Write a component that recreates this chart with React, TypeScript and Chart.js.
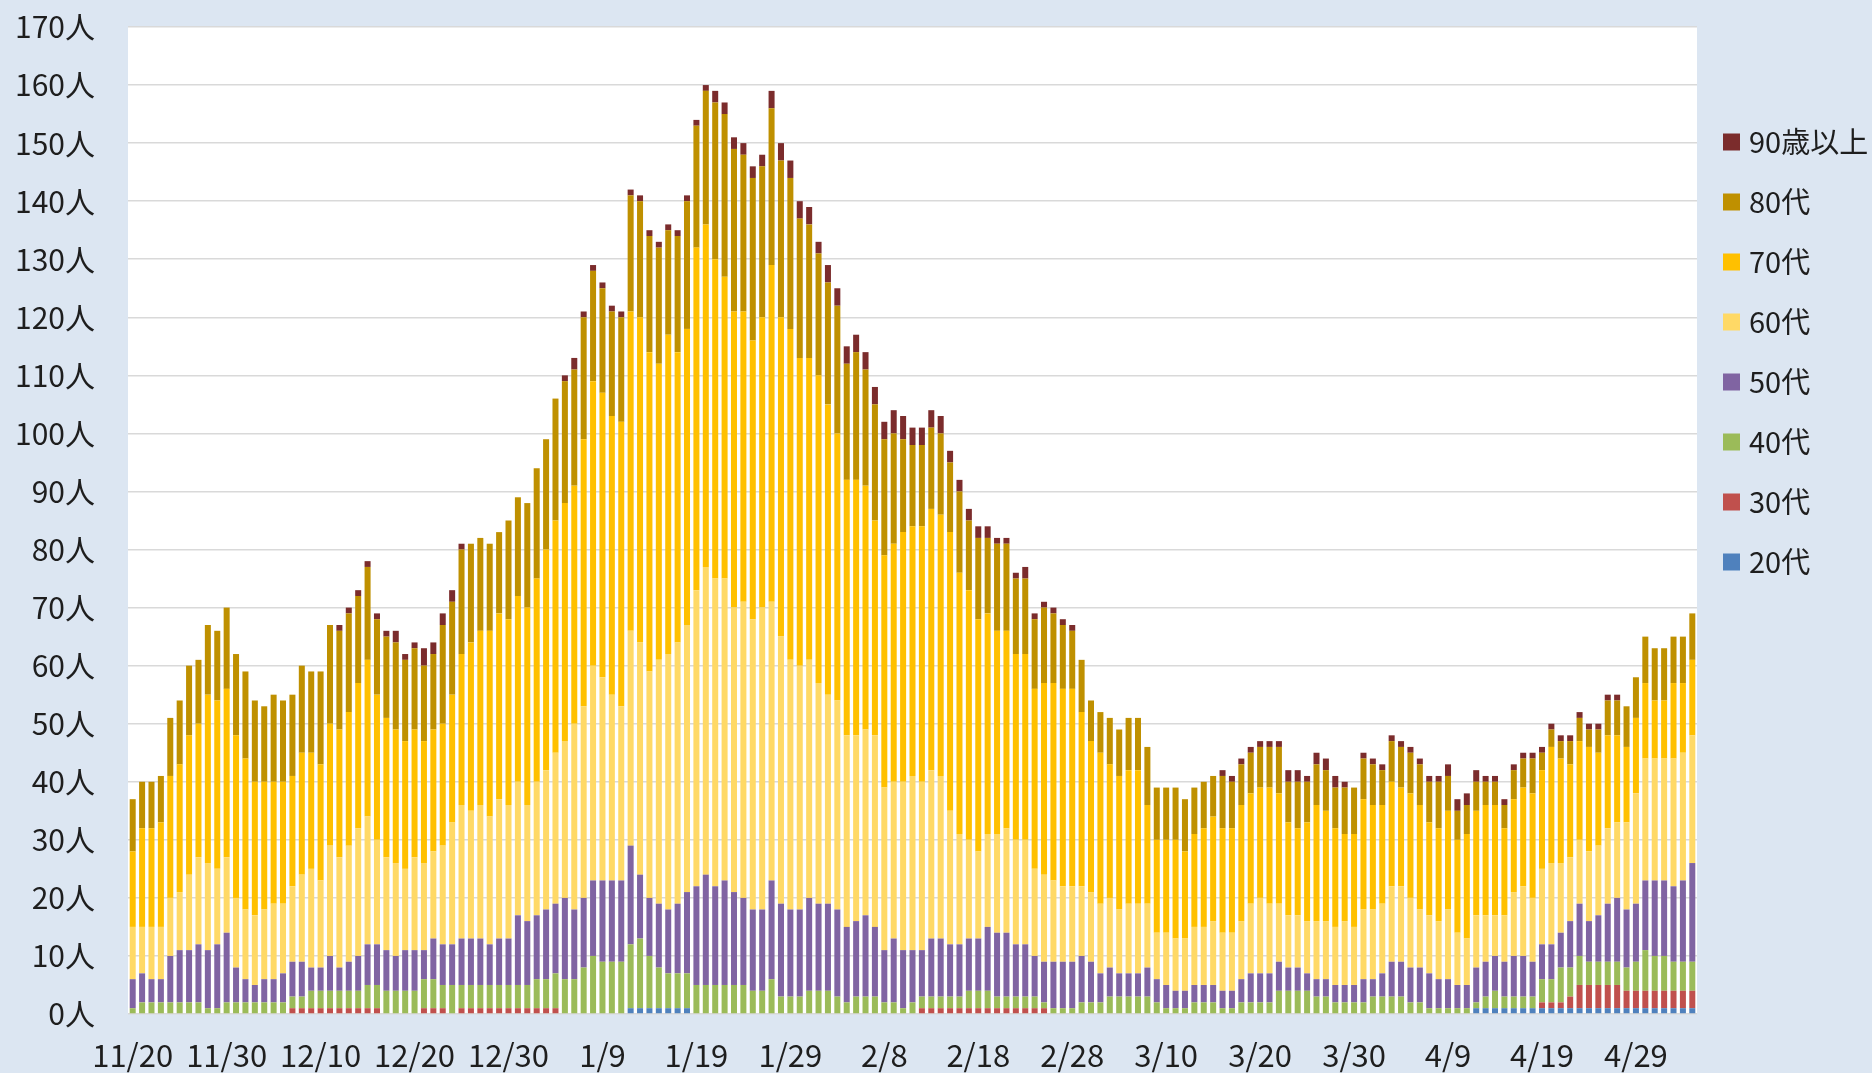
import { useEffect, useRef } from 'react';
import { Chart, registerables } from 'chart.js';

Chart.register(...registerables);

// Categories: daily dates from 2020-11-20 to 2021-05-05 (167 days)
const START_DATE = [2020, 10, 20];
const DAY_COUNT = 167;
const DAYS: string[] = (() => {
  const out: string[] = [];
  const dt = new Date(START_DATE[0], START_DATE[1], START_DATE[2]);
  for (let i = 0; i < DAY_COUNT; i++) {
    out.push(`${dt.getMonth() + 1}/${dt.getDate()}`);
    dt.setDate(dt.getDate() + 1);
  }
  return out;
})();

const TICK_LABELS = ['11/20', '11/30', '12/10', '12/20', '12/30', '1/9', '1/19', '1/29', '2/8', '2/18', '2/28', '3/10', '3/20', '3/30', '4/9', '4/19', '4/29'];

const AGE20 = [
  0,0,0,0,0,0,0,0,0,0, 0,0,0,0,0,0,0,0,0,0, 0,0,0,0,0,0,0,0,0,0, 0,0,0,0,0,0,0,0,0,0,
  0,0,0,0,0,0,0,0,0,0, 0,0,0,1,1,1,1,1,1,1, 0,0,0,0,0,0,0,0,0,0, 0,0,0,0,0,0,0,0,0,0,
  0,0,0,0,0,0,0,0,0,0, 0,0,0,0,0,0,0,0,0,0, 0,0,0,0,0,0,0,0,0,0, 0,0,0,0,0,0,0,0,0,0,
  0,0,0,0,0,0,0,0,0,0, 0,0,0,0,0,0,0,0,0,0, 0,0,0,1,1,1,1,1,1,1, 1,1,1,1,1,1,1,1,1,1,
  1,1,1,1,1,1,1,
];
const AGE30 = [
  0,0,0,0,0,0,0,0,0,0, 0,0,0,0,0,0,0,1,1,1, 1,1,1,1,1,1,1,0,0,0, 0,1,1,1,0,1,1,1,1,1,
  1,1,1,1,1,1,0,0,0,0, 0,0,0,0,0,0,0,0,0,0, 0,0,0,0,0,0,0,0,0,0, 0,0,0,0,0,0,0,0,0,0,
  0,0,0,0,1,1,1,1,1,1, 1,1,1,1,1,1,1,1,0,0, 0,0,0,0,0,0,0,0,0,0, 0,0,0,0,0,0,0,0,0,0,
  0,0,0,0,0,0,0,0,0,0, 0,0,0,0,0,0,0,0,0,0, 0,0,0,0,0,0,0,0,0,0, 1,1,1,2,4,4,4,4,4,3,
  3,3,3,3,3,3,3,
];
const AGE40 = [
  1,2,2,2,2,2,2,2,1,1, 2,2,2,2,2,2,2,2,2,3, 3,3,3,3,3,4,4,4,4,4, 4,5,5,4,5,4,4,4,4,4,
  4,4,4,5,5,6,6,6,8,10, 9,9,9,11,12,9,7,6,6,6, 5,5,5,5,5,5,4,4,6,3, 3,3,4,4,4,3,2,3,3,3,
  2,2,1,2,2,2,2,2,2,3, 3,3,2,2,2,2,2,1,1,1, 1,2,2,2,3,3,3,3,3,2, 1,1,1,2,2,2,1,1,2,2,
  2,2,4,4,4,4,3,3,2,2, 2,2,3,3,3,3,2,2,1,1, 1,1,1,1,2,3,2,2,2,2, 4,4,6,5,5,4,4,4,4,4,
  5,7,6,6,5,5,5,
];
const AGE50 = [
  5,5,4,4,8,9,9,10,10,11, 12,6,4,3,4,4,5,6,6,4, 4,6,4,5,6,7,7,7,6,7, 7,5,7,7,7,8,8,8,7,8,
  8,12,11,11,12,12,14,12,12,13, 14,14,14,17,11,10,11,11,12,14, 17,19,17,18,16,15,14,14,17,16, 15,15,16,15,15,15,13,13,14,12,
  9,11,10,9,8,10,10,9,9,9, 9,11,11,11,9,9,7,7,8,8, 8,8,7,5,5,4,4,4,5,4, 4,3,3,3,3,3,3,3,4,5,
  5,5,5,4,4,3,3,3,3,3, 3,4,3,4,6,6,6,6,6,5, 5,4,4,6,6,6,6,7,7,6, 6,6,6,8,9,7,8,10,11,10,
  10,12,13,13,13,14,17,
];
const AGE60 = [
  9,8,9,9,10,10,13,15,15,13, 13,12,12,12,12,13,12,13,15,17, 15,19,19,20,22,22,18,16,16,14, 16,15,15,17,21,23,22,23,22,24,
  23,23,20,23,24,26,27,32,33,37, 35,32,30,37,40,39,42,44,45,46, 51,53,53,52,49,51,50,52,48,46, 43,42,41,38,36,36,33,32,32,33,
  28,27,29,30,29,29,28,23,19,17, 15,16,17,18,18,18,15,15,14,13, 13,12,12,12,12,11,12,12,11,8, 9,9,9,10,10,11,10,10,10,12,
  13,12,10,9,9,9,10,10,10,11, 10,12,12,12,13,13,12,10,10,10, 12,9,8,9,8,7,8,11,12,11, 13,14,12,11,11,12,12,13,13,15,
  19,21,21,21,22,22,22,
];
const AGE70 = [
  13,17,17,18,21,22,24,23,29,29, 29,28,26,23,22,21,21,19,21,20, 20,21,22,23,25,27,25,24,23,22, 22,21,21,21,22,26,29,30,32,32,
  32,32,34,35,38,40,41,41,46,49, 49,48,49,55,56,55,51,55,50,51, 59,59,55,52,51,50,48,50,58,55, 57,53,52,53,50,46,44,44,42,37,
  40,41,43,43,44,45,45,48,45,43, 40,38,35,34,32,32,31,33,34,34, 34,30,26,26,23,23,23,23,17,16, 16,17,15,16,17,18,18,18,20,19,
  19,20,19,16,15,17,20,19,17,15, 16,19,18,17,18,17,18,18,16,16, 17,16,18,18,19,19,15,16,17,18, 17,20,18,16,17,18,16,16,15,13,
  13,13,10,10,13,12,13,
];
const AGE80 = [
  9,8,8,8,10,11,12,11,12,12, 14,14,15,14,13,15,14,14,15,14, 16,17,17,17,15,16,13,14,15,14, 14,13,13,17,16,18,17,16,15,14,
  17,17,18,19,19,21,21,20,21,19, 18,18,18,20,20,20,20,18,20,22, 21,23,27,28,28,27,28,26,27,27, 26,24,23,21,21,22,20,22,20,20,
  20,19,16,14,14,14,14,12,14,12, 14,13,15,15,13,13,12,13,12,11, 10,9,7,7,8,8,9,9,10,9, 9,9,9,8,8,7,9,8,7,7,
  7,7,8,7,8,7,7,7,7,8, 8,7,7,6,7,7,7,7,7,8, 6,5,5,5,4,4,4,5,5,6, 3,3,3,4,4,3,4,6,6,7,
  7,8,9,9,8,8,8,
];
const AGE90 = [
  0,0,0,0,0,0,0,0,0,0, 0,0,0,0,0,0,0,0,0,0, 0,0,1,1,1,1,1,1,2,1, 1,3,2,2,2,1,0,0,0,0,
  0,0,0,0,0,0,1,2,1,1, 1,1,1,1,1,1,1,1,1,1, 1,1,2,2,2,2,2,2,3,3, 3,3,3,2,3,3,3,3,3,3,
  3,4,4,3,3,3,3,2,2,2, 2,2,1,1,1,2,1,1,1,1, 1,0,0,0,0,0,0,0,0,0, 0,0,0,0,0,0,1,1,1,1,
  1,1,1,2,2,1,2,2,2,1, 0,1,1,1,1,1,1,1,1,1, 2,2,2,2,1,1,1,1,1,1, 1,1,1,1,1,1,1,1,1,0,
  0,0,0,0,0,0,0,
];

const SERIES_NAMES = ['20代', '30代', '40代', '50代', '60代', '70代', '80代', '90歳以上'];
const SERIES_VALUES = [AGE20, AGE30, AGE40, AGE50, AGE60, AGE70, AGE80, AGE90];
const SERIES_COLORS = ['#4F81BD', '#C0504D', '#9BBB59', '#8064A2', '#FFD966', '#FFC000', '#BF9000', '#7B2C2C'];

const FONT_FAMILY = "'Noto Sans CJK JP', 'Noto Sans', sans-serif";
const TEXT_COLOR = '#1E1E1E';

const plotBackground = {
  id: 'plotBackground',
  beforeDraw(chart: any) {
    const { ctx, chartArea } = chart;
    ctx.save();
    ctx.fillStyle = '#FFFFFF';
    ctx.fillRect(chartArea.left, chartArea.top, chartArea.right - chartArea.left, chartArea.bottom - chartArea.top);
    ctx.restore();
  },
};

const sideLegend = {
  id: 'sideLegend',
  afterDraw(chart: any) {
    const { ctx, chartArea } = chart;
    const sets = chart.data.datasets.slice().reverse();
    ctx.save();
    ctx.font = `29px ${FONT_FAMILY}`;
    ctx.textBaseline = 'middle';
    ctx.textAlign = 'left';
    const boxX = chartArea.right + 26;
    sets.forEach((ds: any, i: number) => {
      const cy = 142 + i * 60;
      ctx.fillStyle = ds.backgroundColor;
      ctx.fillRect(boxX, cy - 8.5, 17, 17);
      ctx.fillStyle = TEXT_COLOR;
      ctx.fillText(ds.label, boxX + 26, cy);
    });
    ctx.restore();
  },
};

export default function App() {
  const ref = useRef<HTMLCanvasElement | null>(null);

  useEffect(() => {
    if (!ref.current) return;
    const chart = new Chart(ref.current, {
      type: 'bar',
      data: {
        labels: DAYS,
        datasets: SERIES_NAMES.map((name, i) => ({
          label: name,
          data: SERIES_VALUES[i],
          backgroundColor: SERIES_COLORS[i],
          borderWidth: 0,
          barPercentage: 0.64,
          categoryPercentage: 1.0,
        })),
      },
      options: {
        animation: false,
        responsive: false,
        devicePixelRatio: 1,
        layout: { padding: { top: 27, right: 175, bottom: 0, left: 0 } },
        plugins: {
          legend: { display: false },
          tooltip: { enabled: false },
        },
        scales: {
          x: {
            stacked: true,
            grid: { display: false },
            border: { display: false },
            ticks: {
              autoSkip: false,
              maxRotation: 0,
              minRotation: 0,
              padding: 15,
              color: TEXT_COLOR,
              font: { family: FONT_FAMILY, size: 31 },
              callback: (_v: any, idx: number) => (TICK_LABELS.includes(DAYS[idx]) ? DAYS[idx] : ''),
            },
            afterFit: (axis: any) => {
              axis.height = 59;
              axis.paddingLeft = 0;
              axis.paddingRight = 0;
            },
          },
          y: {
            stacked: true,
            min: 0,
            max: 170,
            grid: { color: '#D9D9D9', lineWidth: 1.5, drawTicks: false },
            border: { display: false },
            ticks: {
              stepSize: 10,
              padding: 33,
              color: TEXT_COLOR,
              font: { family: FONT_FAMILY, size: 30 },
              callback: (v: any) => `${v}人`,
            },
            afterFit: (axis: any) => {
              axis.width = 128;
              axis.paddingTop = 0;
              axis.paddingBottom = 0;
            },
          },
        },
      },
      plugins: [plotBackground, sideLegend],
    });
    return () => chart.destroy();
  }, []);

  return (
    <div style={{ position: 'fixed', left: 0, top: 0, width: 1872, height: 1073, background: '#DCE6F2' }}>
      <canvas ref={ref} width={1872} height={1073} style={{ display: 'block', width: 1872, height: 1073 }} />
    </div>
  );
}
